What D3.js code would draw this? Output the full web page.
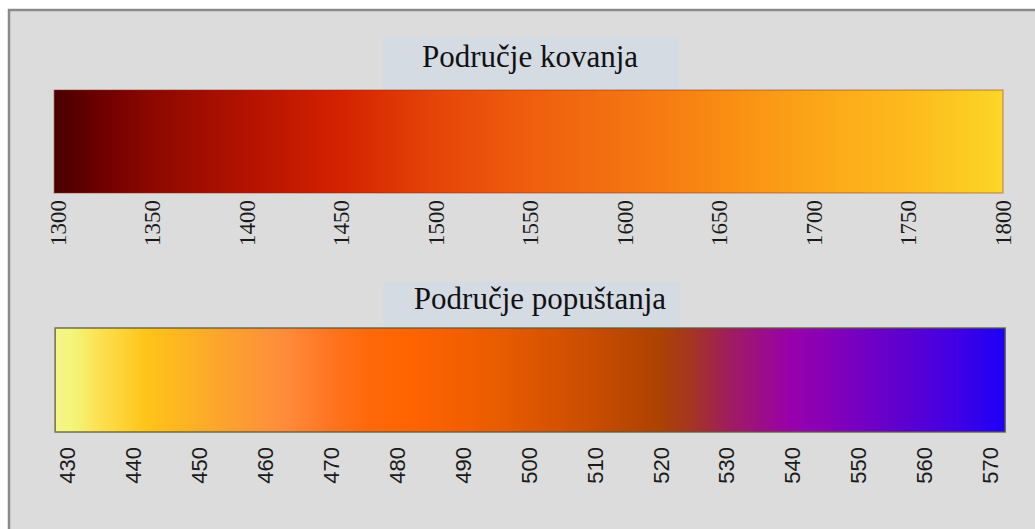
<!DOCTYPE html>
<html>
<head>
<meta charset="utf-8">
<script src="https://cdn.jsdelivr.net/npm/d3@7"></script>
<style>
  html, body { margin: 0; padding: 0; background: #ffffff; }
  svg { display: block; }
</style>
</head>
<body>
<div id="chart"></div>
<script>
// forging range (kovanje)
const forgeTitle = "Područje kovanja";
const forgeTicks = [1300, 1350, 1400, 1450, 1500, 1550, 1600, 1650, 1700, 1750, 1800];
const forgeStopVals = [1300, 1325, 1350, 1400, 1450, 1500, 1550, 1600, 1650, 1700, 1750, 1790, 1800];
const forgeStopCols = ["#4a0000", "#700000", "#8c0800", "#b31200", "#d42200", "#e54508", "#ef5e0e",
                       "#f47212", "#f98b12", "#fca518", "#fdba1c", "#fcd024", "#fcd628"];

// tempering range (popuštanje)
const tempTitle = "Područje popuštanja";
const tempTicks = [430, 440, 450, 460, 470, 480, 490, 500, 510, 520, 530, 540, 550, 560, 570];
const tempStopVals = [428, 431, 435, 442, 455, 463, 470, 476, 482, 495, 510, 520, 525, 530, 540, 555, 565, 572];
const tempStopCols = ["#f4f68a", "#f3f57a", "#fce050", "#fec418", "#fca030", "#ff8c3c", "#ff7420",
                      "#ff6808", "#ff6400", "#ea5c00", "#c84c00", "#ac4202", "#a53424", "#a01e5a",
                      "#9800ac", "#6400cc", "#4000e4", "#1e00f8"];

const width = 1035, height = 529;

const svg = d3.select("#chart").append("svg")
  .attr("width", width)
  .attr("height", height);

// frame
svg.append("rect")
  .attr("x", 9).attr("y", 10)
  .attr("width", width).attr("height", height)
  .attr("fill", "#dcdcdc");
svg.append("path")
  .attr("d", `M9,${height} V10 H${width}`)
  .attr("fill", "none")
  .attr("stroke", "#8a8a8a")
  .attr("stroke-width", 2.5);

const defs = svg.append("defs");

function drawBar(cfg) {
  const x = d3.scaleLinear().domain(cfg.domain).range(cfg.range);
  const x0 = x(cfg.barExt[0]), x1 = x(cfg.barExt[1]);

  // title box
  svg.append("rect")
    .attr("x", cfg.box[0]).attr("y", cfg.box[1])
    .attr("width", cfg.box[2]).attr("height", cfg.box[3])
    .attr("fill", "#d5dbe3");
  svg.append("text")
    .attr("x", cfg.titleX).attr("y", cfg.titleY)
    .attr("text-anchor", "middle")
    .attr("font-family", "Liberation Serif, Times New Roman, serif")
    .attr("font-size", 31)
    .attr("fill", "#111")
    .text(cfg.title);

  // gradient from stops, offsets through the scale
  const grad = defs.append("linearGradient")
    .attr("id", cfg.id)
    .attr("x1", "0%").attr("x2", "100%").attr("y1", "0%").attr("y2", "0%");
  grad.selectAll("stop")
    .data(cfg.stopVals)
    .join("stop")
    .attr("offset", d => ((x(d) - x0) / (x1 - x0) * 100) + "%")
    .attr("stop-color", (d, i) => cfg.stopCols[i]);

  svg.append("rect")
    .attr("x", x0).attr("y", cfg.barY)
    .attr("width", x1 - x0).attr("height", cfg.barH)
    .attr("fill", `url(#${cfg.id})`)
    .attr("stroke", cfg.stroke)
    .attr("stroke-opacity", cfg.strokeOp)
    .attr("stroke-width", 1.5);

  const axis = svg.append("g")
    .attr("transform", `translate(0,${cfg.barY + cfg.barH + cfg.labelGap})`)
    .call(d3.axisBottom(x).tickValues(cfg.ticks).tickSize(0).tickPadding(0).tickFormat(d3.format("d")))
    .attr("font-family", cfg.font)
    .attr("font-size", cfg.fontSize);
  axis.select(".domain").remove();
  axis.selectAll("text")
    .attr("transform", "rotate(-90)")
    .attr("x", 0).attr("y", 0)
    .attr("dy", "0.35em")
    .attr("text-anchor", "end")
    .attr("fill", "#1a1a1a");
}

drawBar({
  id: "gForge", title: forgeTitle, ticks: forgeTicks,
  stopVals: forgeStopVals, stopCols: forgeStopCols,
  domain: [1300, 1800], range: [57, 1002], barExt: [1298.5, 1800.5],
  box: [383, 37, 295, 53], titleX: 530, titleY: 67,
  barY: 90, barH: 103, labelGap: 7,
  stroke: "#8a2a10", strokeOp: 0.35,
  font: "Liberation Serif, Times New Roman, serif", fontSize: 23
});

drawBar({
  id: "gTemp", title: tempTitle, ticks: tempTicks,
  stopVals: tempStopVals, stopCols: tempStopCols,
  domain: [430, 570], range: [67, 990], barExt: [428.2, 572.3],
  box: [383, 282, 297, 46], titleX: 540, titleY: 309,
  barY: 328, barH: 104, labelGap: 15,
  stroke: "#5e5a3a", strokeOp: 0.85,
  font: "Liberation Sans, Arial, sans-serif", fontSize: 22
});
</script>
</body>
</html>
